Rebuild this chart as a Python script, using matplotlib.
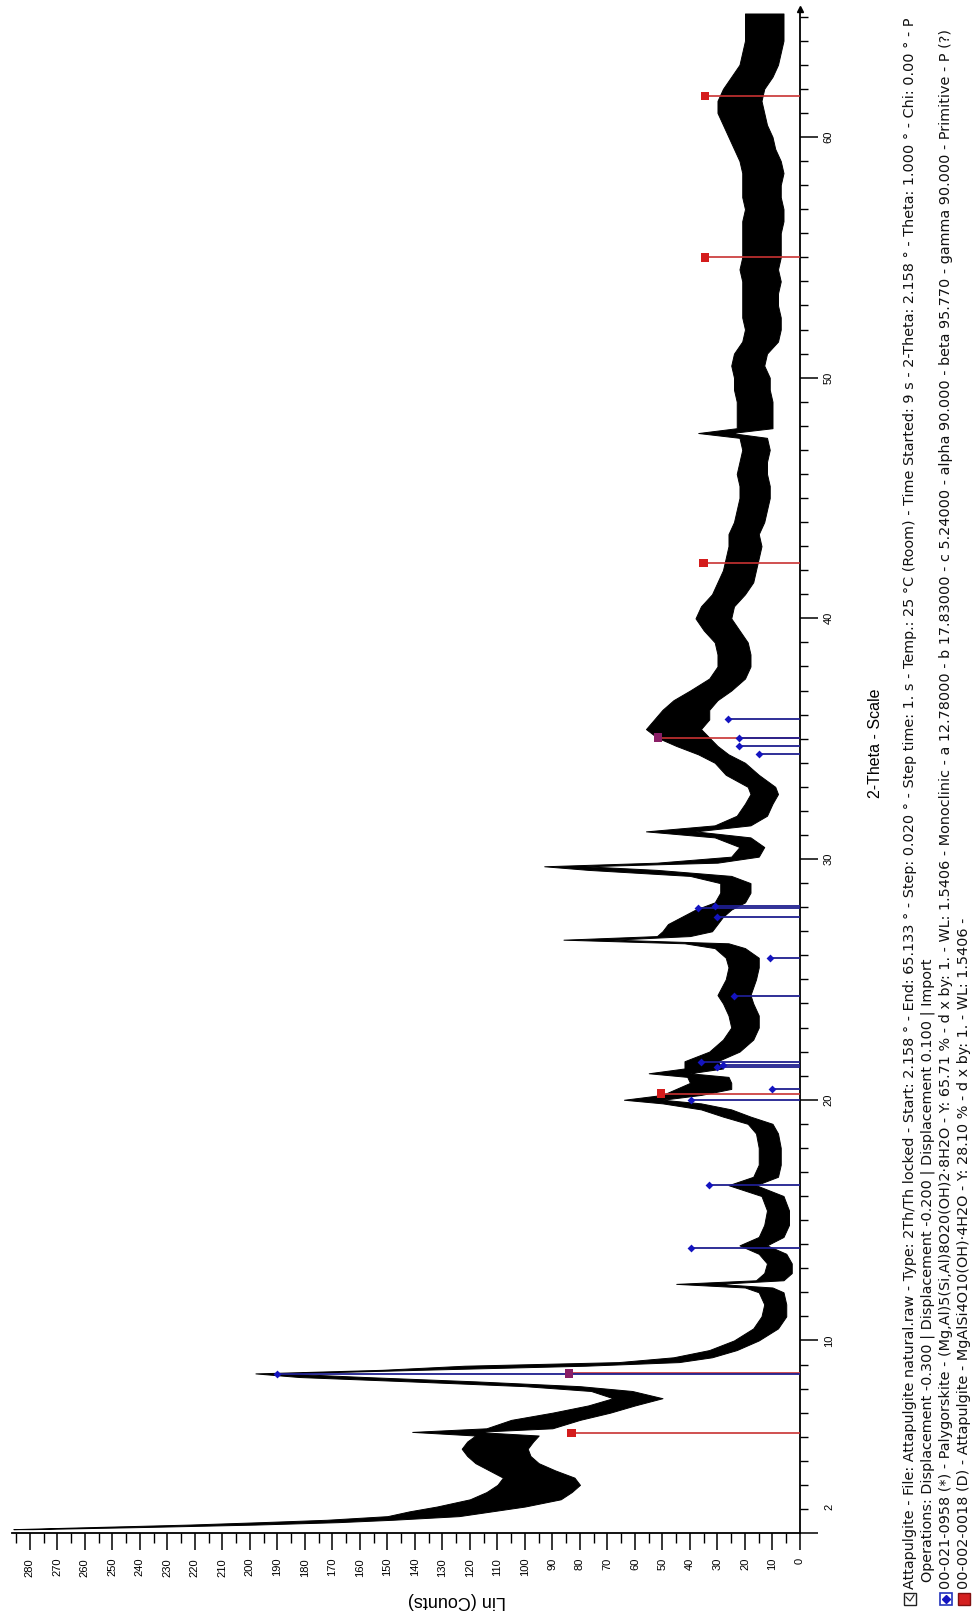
import matplotlib
matplotlib.use("Agg")
import matplotlib.pyplot as plt
from matplotlib.patches import Rectangle
from matplotlib.lines import Line2D
from matplotlib.ticker import MultipleLocator, FixedLocator

plt.rcParams['font.family'] = ['Liberation Sans', 'DejaVu Sans']

# ---------------- data ----------------
two_theta = [2.16, 2.25, 2.35, 2.45, 2.55, 2.70, 2.90, 3.10, 3.40, 3.70, 4.00, 4.30, 4.60,
             4.90, 5.20, 5.50, 5.80, 6.05, 6.20, 6.35, 6.70, 7.00, 7.30, 7.60, 7.90, 8.10,
             8.30, 8.48, 8.63, 8.78, 8.95, 9.10, 9.30, 9.60, 10.00, 10.50, 11.00, 11.50,
             12.00, 12.20, 12.35, 12.50, 12.80, 13.20, 13.60, 13.95, 14.30, 14.80, 15.40,
             16.00, 16.45, 16.80, 17.30, 18.00, 18.60, 19.00, 19.30, 19.60, 19.85, 20.00,
             20.20, 20.45, 20.70, 20.95, 21.10, 21.30, 21.60, 22.00, 22.50, 23.00, 23.50,
             24.00, 24.35, 25.00, 25.50, 25.90, 26.30, 26.50, 26.65, 26.80, 27.00, 27.30,
             27.60, 27.90, 28.20, 28.60, 29.00, 29.30, 29.55, 29.70, 29.85, 30.10, 30.50,
             30.90, 31.15, 31.40, 31.80, 32.30, 32.70, 33.00, 33.50, 34.00, 34.35, 34.70,
             35.05, 35.40, 35.80, 36.20, 36.60, 37.00, 37.50, 38.00, 38.50, 39.00, 39.50,
             40.00, 40.50, 41.00, 41.50, 42.00, 42.50, 43.00, 43.50, 44.00, 44.50, 45.00,
             45.50, 46.00, 46.50, 47.00, 47.50, 47.70, 47.90, 48.50, 49.00, 49.50, 50.00,
             50.50, 51.00, 51.50, 52.00, 52.50, 53.00, 53.50, 54.00, 54.50, 55.00, 55.50,
             56.00, 56.50, 57.00, 57.50, 58.00, 58.50, 59.00, 59.50, 60.00, 60.50, 61.00,
             61.50, 62.00, 62.50, 63.00, 63.50, 64.00, 64.50, 65.13]
counts_low = [279, 238, 198, 168, 148, 124, 112, 100, 87, 83, 80, 82, 89,
              95, 98, 99, 97, 95, 118, 90, 80, 69, 60, 50, 61, 80,
              118, 158, 188, 138, 78, 44, 32, 23, 15, 8, 5, 5,
              6, 10, 30, 6, 3, 3, 5, 12, 6, 4, 4,
              6, 16, 8, 7, 7, 8, 10, 18, 25, 36, 50,
              36, 25, 25, 26, 40, 28, 30, 22, 17, 15, 15,
              17, 18, 16, 15, 15, 20, 26, 68, 40, 32, 30,
              28, 25, 20, 18, 18, 25, 52, 78, 30, 15, 13,
              18, 38, 18, 12, 10, 8, 9, 15, 20, 26, 30,
              33, 36, 33, 33, 30, 25, 20, 18, 18, 19, 22,
              25, 24, 20, 17, 16, 15, 14, 15, 13, 12, 11,
              11, 12, 12, 11, 12, 25, 10, 10, 10, 11, 11,
              13, 12, 8, 7, 7, 8, 8, 7, 8, 7, 7,
              7, 6, 6, 7, 7, 6, 7, 9, 10, 12, 13,
              14, 13, 10, 8, 7, 6, 6, 6]
counts_high = [286, 256, 222, 196, 172, 150, 142, 132, 120, 114, 110, 108, 113,
               118, 121, 123, 121, 118, 141, 114, 105, 90, 77, 68, 76, 100,
               142, 182, 198, 152, 122, 66, 46, 33, 24, 17, 14, 13,
               15, 20, 45, 16, 13, 12, 15, 22, 15, 13, 12,
               14, 26, 17, 15, 15, 16, 19, 28, 36, 50, 64,
               50, 45, 40, 41, 55, 42, 42, 33, 28, 25, 26,
               28, 30, 27, 26, 27, 31, 42, 86, 52, 50, 48,
               43, 38, 31, 29, 29, 40, 77, 93, 52, 25, 22,
               31, 56, 31, 23, 20, 18, 19, 27, 31, 37, 45,
               52, 56, 53, 50, 46, 40, 33, 30, 30, 31, 35,
               38, 36, 32, 30, 28, 27, 26, 26, 24, 23, 22,
               22, 23, 22, 21, 22, 37, 23, 23, 23, 24, 24,
               25, 24, 21, 20, 21, 21, 21, 21, 22, 21, 21,
               21, 21, 20, 21, 21, 21, 22, 24, 26, 28, 30,
               30, 28, 25, 22, 21, 20, 20, 20]

# 00-021-0958 Palygorskite reference lines
paly_pos = [8.60, 13.85, 16.45, 20.00, 20.45, 21.35, 21.45, 21.55, 24.30, 25.90,
            27.60, 27.95, 28.05, 34.35, 34.70, 35.05, 35.80]
paly_cnt = [190, 39.6, 33, 39.6, 10, 30, 28, 36, 24, 11,
            30, 37, 31, 15, 22, 22, 26]
# 00-002-0018 Attapulgite reference lines
atta_pos = [6.15, 8.63, 20.25, 35.05, 42.30, 55.00, 61.70]
atta_cnt = [83, 84, 50.5, 51.6, 35, 34.5, 34.5]

count_ticks = list(range(0, 290, 10))
theta_ticks = [2, 10, 20, 30, 40, 50, 60]

legend_lines = [
    "Attapulgite - File: Attapulgite natural.raw - Type: 2Th/Th locked - Start: 2.158 \u00b0 - End: 65.133 \u00b0 - "
    "Step: 0.020 \u00b0 - Step time: 1. s - Temp.: 25 \u00b0C (Room) - Time Started: 9 s - 2-Theta: 2.158 \u00b0 - "
    "Theta: 1.000 \u00b0 - Chi: 0.00 \u00b0 - P",
    "Operations: Displacement -0.300 | Displacement -0.200 | Displacement 0.100 | Import",
    "00-021-0958 (*) - Palygorskite - (Mg,Al)5(Si,Al)8O20(OH)2\u00b78H2O - Y: 65.71 % - d x by: 1. - WL: 1.5406 - "
    "Monoclinic - a 12.78000 - b 17.83000 - c 5.24000 - alpha 90.000 - beta 95.770 - gamma 90.000 - Primitive - P (?)",
    "00-002-0018 (D) - Attapulgite - MgAlSi4O10(OH)\u00b74H2O - Y: 28.10 % - d x by: 1. - WL: 1.5406 -",
]

# ---------------- figure ----------------
W, H = 979, 1623
fig = plt.figure(figsize=(W / 100, H / 100), dpi=100)


def fx(px):
    return px / W


def fy(py):
    return 1 - py / H


ax_left, ax_right, ax_bottom, ax_top = 12, 800, 1533, 9.4
ax = fig.add_axes([fx(ax_left), fy(ax_bottom), (ax_right - ax_left) / W, (ax_bottom - ax_top) / H])
ax.set_xlim(286.5, 0)
ax.set_ylim(2.0, 65.3)

for s in ('left', 'top'):
    ax.spines[s].set_visible(False)
for s in ('right', 'bottom'):
    ax.spines[s].set_linewidth(1.3)
    ax.spines[s].set_color('black')

ax.yaxis.tick_right()
ax.xaxis.set_major_locator(FixedLocator(count_ticks))
ax.xaxis.set_minor_locator(MultipleLocator(5))
ax.yaxis.set_major_locator(FixedLocator(theta_ticks))
ax.yaxis.set_minor_locator(MultipleLocator(1))
ax.tick_params(axis='x', which='major', direction='out', length=12, width=1.1,
               labelsize=8, pad=6, labelrotation=90)
ax.tick_params(axis='x', which='minor', direction='out', length=7, width=1.0)
ax.tick_params(axis='y', which='major', direction='out', length=13, width=1.1,
               labelsize=8, pad=4, labelrotation=90)
ax.tick_params(axis='y', which='minor', direction='out', length=6, width=1.0)
ax.set_xticklabels([str(c) for c in count_ticks])
# the first 2-theta label sits a little above the origin in the reference
ax.set_yticklabels([''] + [str(t) for t in theta_ticks[1:]])
for lab in ax.get_yticklabels():
    lab.set_verticalalignment('center')
ax.annotate(str(theta_ticks[0]), xy=(1, theta_ticks[0]), xycoords=('axes fraction', 'data'),
            xytext=(13 + 4 + 0.5, 19), textcoords='offset points', rotation=90,
            ha='left', va='center', fontsize=8)

# measured pattern (noise band)
ax.fill_betweenx(two_theta, counts_low, counts_high, color='black', lw=0.7, zorder=2)

# reference stick patterns
ax.hlines(atta_pos, 0, atta_cnt, color='#c83232', lw=1.2, zorder=3)
ax.hlines(paly_pos, 0, paly_cnt, color='#1f1f8f', lw=1.3, zorder=3)
atta_colors = ['#8a1f66' if any(abs(p - q) < 0.1 for q in paly_pos) else '#d41c1c' for p in atta_pos]
ax.scatter(atta_cnt, atta_pos, marker='s', s=38, c=atta_colors, zorder=4, linewidths=0)
ax.scatter(paly_cnt, paly_pos, marker='D', s=16, c='#1414c0', zorder=5, linewidths=0)

# axis arrow at top of the 2-theta axis
ax.plot([0], [65.3], marker='^', color='black', ms=5, clip_on=False, zorder=6)

# axis titles
fig.text(fx(876), fy(743), '2-Theta - Scale', rotation=90, ha='center', va='center', fontsize=11.5)
fig.text(fx(457), fy(1600), 'Lin (Counts)', rotation=180, ha='center', va='center', fontsize=13)

# legend block
line_x = [910, 928, 946, 964]
line_start = [1589, 1582, 1589, 1589]
fs = 8.0
texts = []
for lx, ly, s in zip(line_x, line_start, legend_lines):
    t = fig.text(fx(lx), fy(ly), s, rotation=90, rotation_mode='anchor', ha='left', va='center',
                 fontsize=fs, color='#111111', family=['DejaVu Sans'])
    texts.append(t)
fig.canvas.draw()
r = fig.canvas.get_renderer()
length = texts[0].get_window_extent(r).height
target = 1589 - 20
new_fs = fs * target / length
for t in texts:
    t.set_fontsize(new_fs)

# legend icons
fig.add_artist(Rectangle((fx(904), fy(1605)), 12 / W, 12 / H, transform=fig.transFigure,
                         facecolor='white', edgecolor='#222222', lw=1.0))
fig.add_artist(Line2D([fx(906), fx(910), fx(914)], [fy(1597), fy(1601), fy(1595)],
                      transform=fig.transFigure, color='#222222', lw=0.8))
fig.add_artist(Rectangle((fx(940), fy(1605)), 12 / W, 12 / H, transform=fig.transFigure,
                         facecolor='white', edgecolor='#2233bb', lw=1.2))
fig.add_artist(Line2D([fx(946)], [fy(1599)], transform=fig.transFigure, marker='D', ms=4,
                      color='#1414c0', lw=0))
fig.add_artist(Rectangle((fx(958), fy(1605)), 12 / W, 12 / H, transform=fig.transFigure,
                         facecolor='#d42020', edgecolor='#801010', lw=1.0))

fig.savefig('out.png', dpi=100)
